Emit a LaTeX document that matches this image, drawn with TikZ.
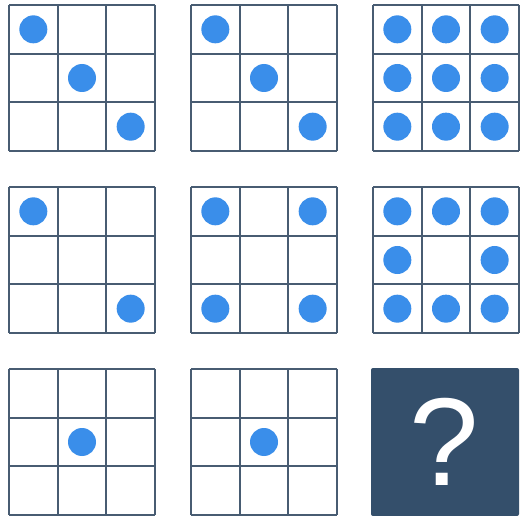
\documentclass[tikz,border=0pt]{standalone}
\usepackage{fontspec}
\setmainfont{Liberation Sans}
\definecolor{gridc}{RGB}{72,92,114}
\definecolor{dotc}{RGB}{58,142,234}
\definecolor{boxc}{RGB}{52,79,107}
\begin{document}
\begin{tikzpicture}[x=1pt,y=-1pt,
  gridline/.style={draw=gridc,line width=1.8pt},
  dotmark/.style={fill=dotc,draw=none},
  qbox/.style={fill=boxc,draw=none,rounded corners=2pt}]
\useasboundingbox[fill=white] (0,0) rectangle (520,516);
\def\cs{48.67}
% grid drawer
\newcommand{\mygrid}[3]{% x0, y0, list of cells (col/row)
  \begin{scope}[shift={(#1,#2)}]
    \fill[white] (0,0) rectangle (146,146);
    \foreach \i in {0,...,3}{
      \draw[gridline] (\i*\cs,0) -- (\i*\cs,146);
      \draw[gridline] (0,\i*\cs) -- (146,\i*\cs);
    }
    \foreach \c/\r in {#3}{
      \fill[dotmark] (\c*\cs+24.33,\r*\cs+24.33) circle (14);
    }
  \end{scope}}
\mygrid{9}{5}{0/0,1/1,2/2}
\mygrid{191}{5}{0/0,1/1,2/2}
\mygrid{373}{5}{0/0,1/0,2/0,0/1,1/1,2/1,0/2,1/2,2/2}
\mygrid{9}{187}{0/0,2/2}
\mygrid{191}{187}{0/0,2/0,0/2,2/2}
\mygrid{373}{187}{0/0,1/0,2/0,0/1,2/1,0/2,1/2,2/2}
\mygrid{9}{369}{1/1}
\mygrid{191}{369}{1/1}
\fill[qbox] (371,368) rectangle (519,516);
\node[text=white,font=\fontsize{125}{125}\selectfont,inner sep=0pt] (q) at (444.5,441.5) {?};
\end{tikzpicture}
\end{document}
